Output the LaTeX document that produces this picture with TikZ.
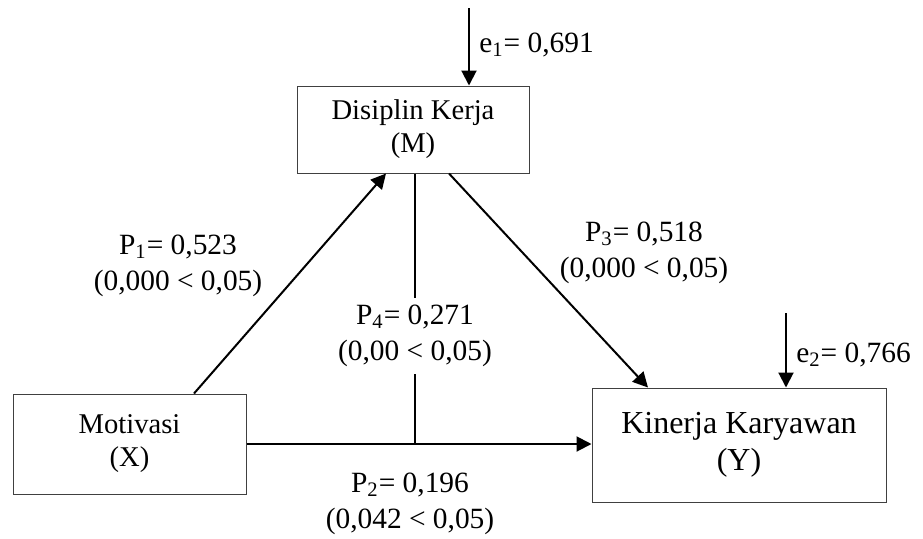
\documentclass[tikz,border=0pt]{standalone}
\usepackage{fontspec}
\setmainfont{Liberation Serif}
\usetikzlibrary{calc,arrows.meta,positioning}
\tikzset{
    construct/.style={
    rectangle,draw=black!75,line width=0.5pt,align=center,inner sep=0pt,
    font=\fontsize{14.3}{16.5}\selectfont
    },
    coef/.style={
    align=center,inner sep=1pt,font=\fontsize{14.7}{18}\selectfont
    },
    effect/.style={
    -{Triangle[length=7.5pt,width=7.5pt]},line width=1pt
    },
    link/.style={
    line width=0.75pt
    },
}
\begin{document}
\begin{tikzpicture}[x=0.5pt, y=-0.5pt]
   \useasboundingbox (0,0) rectangle (923,538);
   \node[construct, minimum width=116pt, minimum height=43.5pt] (M) at (413,129.5) {Disiplin Kerja\\(M)};
   \node[construct, minimum width=116.5pt, minimum height=50pt] (X) at (129.5,444) {Motivasi\\(X)};
   \node[construct, minimum width=147pt, minimum height=57pt, font=\fontsize{16}{18.5}\selectfont] (Y) at (739,445) {Kinerja Karyawan\\(Y)};

   \coordinate (e1) at (469,8);
   \coordinate (e2) at (786,313);

   \node[coef] (p1) at (178,266) {P\textsubscript{1}= 0,523\\(0,000 < 0,05)};
   \node[coef] (p3) at (644,253) {P\textsubscript{3}= 0,518\\(0,000 < 0,05)};
   \node[coef, inner ysep=3.5pt] (p4) at (415,336) {P\textsubscript{4}= 0,271\\(0,00 < 0,05)};
   \node[coef] (p2) at (410,504) {P\textsubscript{2}= 0,196\\(0,042 < 0,05)};
   \node[coef, anchor=west] (r1) at (477,45) {e\textsubscript{1}= 0,691};
   \node[coef, anchor=west] (r2) at (794,355) {e\textsubscript{2}= 0,766};

   % residuals
   \draw[effect] (e1) -- (e1 |- M.north);
   \draw[effect] (e2) -- (e2 |- Y.north);

   % direct paths
   \draw[effect] ($(X.north)+(64.5,0)$) -- ($(M.south)+(-27,0)$);
   \draw[effect] ($(M.south)+(36,0)$) -- ($(Y.north)+(-91,0)$);
   \draw[effect] (X.east) -- (X.east -| Y.west);

   % mediated path
   \draw[link] (M.south -| p4.north) -- (p4.north);
   \draw[link] (p4.south) -- (p4.south |- X.east);
\end{tikzpicture}
\end{document}
